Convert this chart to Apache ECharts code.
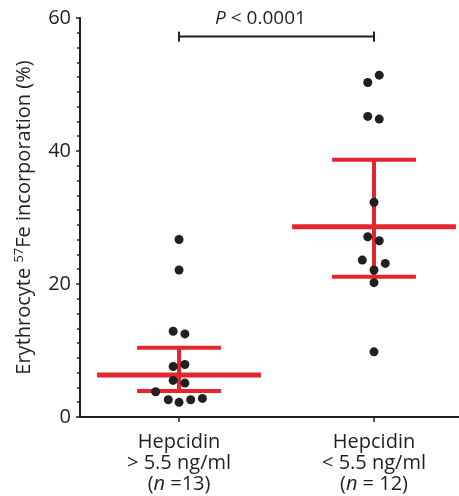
<!DOCTYPE html>
<html>
<head>
<meta charset="utf-8">
<script src="https://cdn.jsdelivr.net/npm/echarts@6/dist/echarts.min.js"></script>
<style>
html,body{margin:0;padding:0;background:#fff;}
#chart{width:459px;height:496px;}
</style>
</head>
<body>
<div id="chart"></div>
<script>
// ---- data ----
const categories = [
  ['Hepcidin', '> 5.5 ng/ml', '(n =13)'],
  ['Hepcidin', '< 5.5 ng/ml', '(n = 12)']
];
const categoryPositions = [1, 2];
const highHepcidinValues = [26.7, 22.1, 12.9, 12.5, 7.6, 7.9, 5.5, 5.1, 3.8, 2.6, 2.2, 2.6, 2.8];
const highHepcidinJitter = [0, 0, -0.03, 0.03, -0.03, 0.03, -0.03, 0.03, -0.12, -0.055, 0, 0.06, 0.12];
const lowHepcidinValues = [51.4, 50.3, 45.2, 44.8, 32.3, 27.1, 26.5, 23.6, 23.1, 22.1, 20.2, 9.8];
const lowHepcidinJitter = [0.027, -0.032, -0.032, 0.027, 0, -0.032, 0.027, -0.06, 0.058, 0, 0, 0];
const groupMeans = [6.3, 28.6];
const groupUpper = [10.4, 38.7];
const groupLower = [3.9, 21.1];
const yTicks = [0, 20, 40, 60];
const pBracket = { from: 1, to: 2, y: 57.2, text: 'P < 0.0001' };

// ---- build ----
const ink = '#231f20';
const red = '#e3262d';
const font = 'Open Sans';

const scatterData = [];
highHepcidinValues.forEach((v, i) => scatterData.push([categoryPositions[0] + highHepcidinJitter[i], v]));
lowHepcidinValues.forEach((v, i) => scatterData.push([categoryPositions[1] + lowHepcidinJitter[i], v]));

const summaryData = groupMeans.map((m, i) => [categoryPositions[i], m, groupLower[i], groupUpper[i]]);

const chart = echarts.init(document.getElementById('chart'), null, { renderer: 'canvas' });

const option = {
  animation: false,
  backgroundColor: '#fff',
  textStyle: { fontFamily: font },
  grid: { left: 80, top: 18, bottom: 79, right: 0 },
  xAxis: {
    type: 'value',
    min: 0.492,
    max: 2.436,
    axisLine: { show: true, lineStyle: { color: ink, width: 2 } },
    axisTick: { show: true, customValues: categoryPositions, length: 5, lineStyle: { color: ink, width: 1.5 } },
    axisLabel: {
      customValues: categoryPositions,
      margin: 15,
      color: ink,
      fontSize: 20,
      lineHeight: 21,
      fontFamily: font,
      formatter: function (val) {
        const idx = categoryPositions.indexOf(Math.round(val));
        const lines = categories[idx];
        const last = lines[2].replace('(n', '({i|n}');
        return lines[0] + '\n' + lines[1] + '\n' + last;
      },
      rich: { i: { fontStyle: 'italic', fontSize: 20, color: ink, fontFamily: font, lineHeight: 21 } }
    },
    splitLine: { show: false }
  },
  yAxis: {
    type: 'value',
    min: yTicks[0],
    max: yTicks[yTicks.length - 1],
    interval: yTicks[1] - yTicks[0],
    axisLine: { show: true, lineStyle: { color: ink, width: 2 } },
    axisTick: { show: true, length: 4, lineStyle: { color: ink, width: 1.5 } },
    minorTick: { show: true, splitNumber: 9, length: 3, lineStyle: { color: ink, width: 1.5 } },
    splitLine: { show: false },
    axisLabel: { color: ink, fontSize: 20, margin: 9, fontFamily: font },
    name: '{a|Erythrocyte }{s|57}{a|Fe incorporation (%)}',
    nameLocation: 'middle',
    nameRotate: 90,
    nameGap: 45,
    nameTextStyle: {
      rich: {
        a: { fontSize: 20, color: ink, fontFamily: font, lineHeight: 22 },
        s: { fontSize: 13, color: ink, fontFamily: font, verticalAlign: 'top', lineHeight: 22, padding: [0, 0, 8, 0] }
      }
    }
  },
  series: [
    {
      type: 'custom',
      z: 2,
      data: summaryData,
      renderItem: function (params, api) {
        const x = api.value(0);
        const mean = api.coord([x, api.value(1)]);
        const lo = api.coord([x, api.value(2)]);
        const hi = api.coord([x, api.value(3)]);
        const unit = api.size([1, 0])[0];
        const meanHalf = unit * 0.42;
        const capHalf = unit * 0.215;
        const st = { stroke: red, lineWidth: 4 };
        return {
          type: 'group',
          children: [
            { type: 'line', shape: { x1: mean[0], y1: hi[1], x2: mean[0], y2: lo[1] }, style: { stroke: red, lineWidth: 4 } },
            { type: 'line', shape: { x1: mean[0] - capHalf, y1: hi[1], x2: mean[0] + capHalf, y2: hi[1] }, style: st },
            { type: 'line', shape: { x1: mean[0] - capHalf, y1: lo[1], x2: mean[0] + capHalf, y2: lo[1] }, style: st },
            { type: 'line', shape: { x1: mean[0] - meanHalf, y1: mean[1], x2: mean[0] + meanHalf, y2: mean[1] }, style: { stroke: red, lineWidth: 5 } }
          ]
        };
      }
    },
    {
      type: 'scatter',
      z: 5,
      symbol: 'circle',
      symbolSize: 9,
      itemStyle: { color: ink, opacity: 1 },
      data: scatterData
    },
    {
      type: 'custom',
      z: 3,
      data: [[pBracket.from, pBracket.to, pBracket.y]],
      renderItem: function (params, api) {
        const a = api.coord([api.value(0), api.value(2)]);
        const b = api.coord([api.value(1), api.value(2)]);
        const st = { stroke: ink, lineWidth: 2 };
        return {
          type: 'group',
          children: [
            { type: 'line', shape: { x1: a[0], y1: a[1], x2: b[0], y2: b[1] }, style: st },
            { type: 'line', shape: { x1: a[0], y1: a[1] - 5, x2: a[0], y2: a[1] + 5 }, style: st },
            { type: 'line', shape: { x1: b[0], y1: b[1] - 5, x2: b[0], y2: b[1] + 5 }, style: st },
            {
              type: 'text',
              x: (a[0] + b[0]) / 2 - 16,
              y: a[1] - 18,
              style: {
                text: '{i|P}{r| < 0.0001}',
                align: 'center',
                verticalAlign: 'middle',
                rich: {
                  i: { fontStyle: 'italic', fontSize: 19, fill: ink, fontFamily: font },
                  r: { fontSize: 19, fill: ink, fontFamily: font }
                }
              }
            }
          ]
        };
      }
    }
  ]
};
chart.setOption(option);
</script>
</body>
</html>
